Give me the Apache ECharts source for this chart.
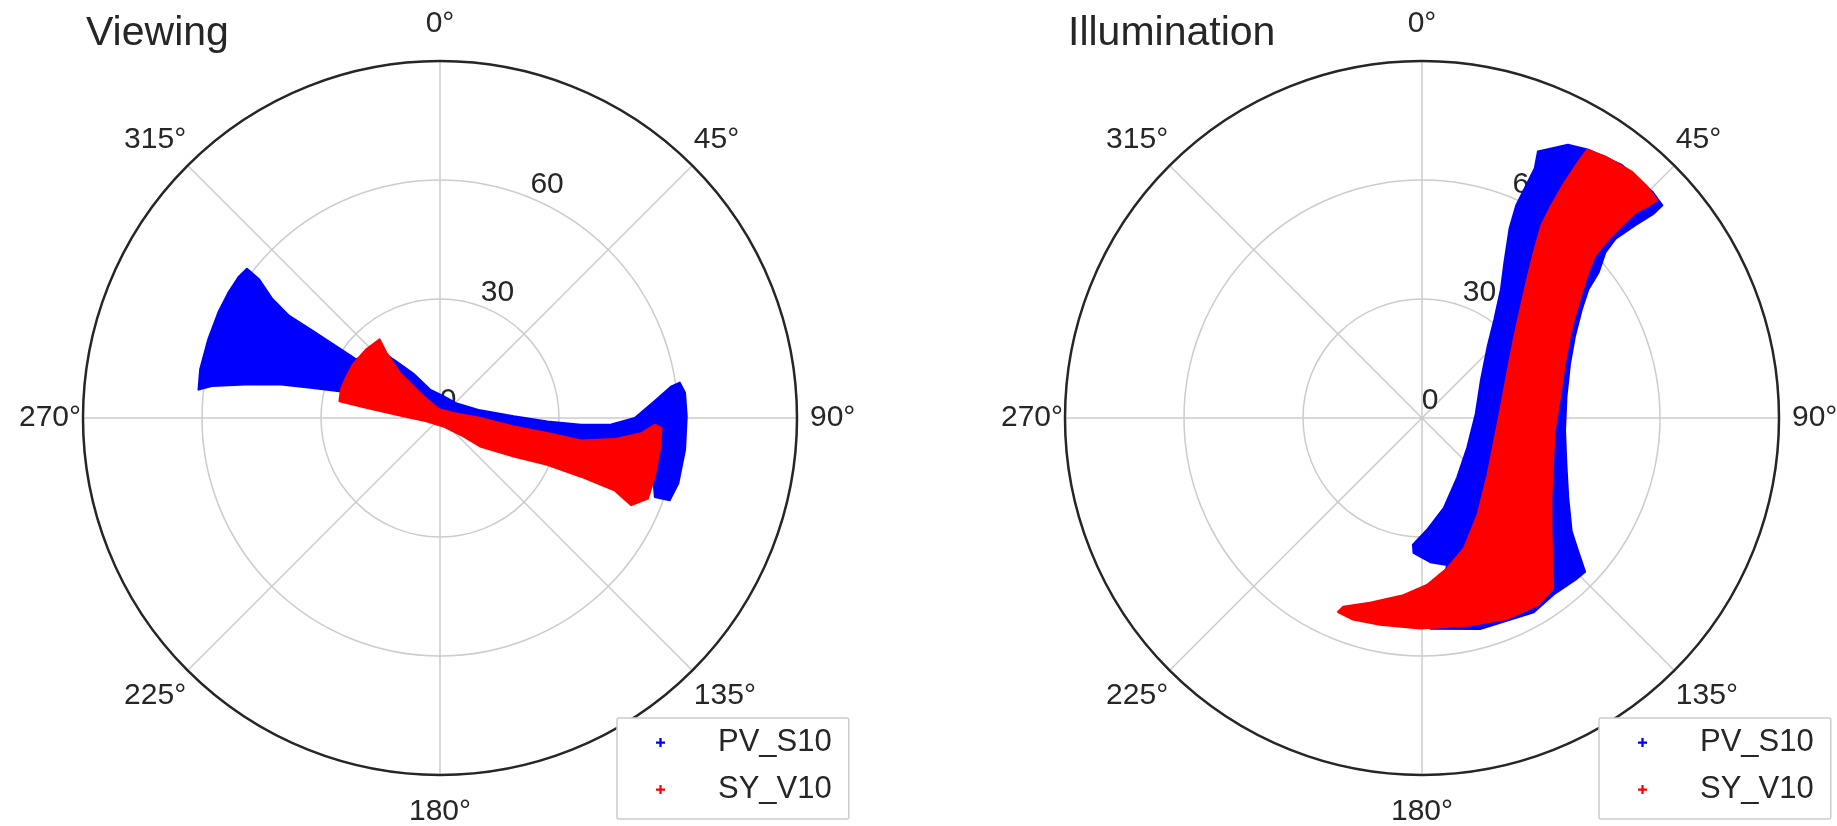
<!DOCTYPE html>
<html>
<head>
<meta charset="utf-8">
<script src="https://cdn.jsdelivr.net/npm/echarts@6/dist/echarts.min.js"></script>
<style>
  html, body { margin: 0; padding: 0; background: #fff; }
  #chart { width: 1837px; height: 826px; }
</style>
</head>
<body>
<div id="chart"></div>
<script>
const panelTitles = ['Viewing', 'Illumination']
const seriesNames = ['PV_S10', 'SY_V10']
const angleTicks = [0, 45, 90, 135, 180, 225, 270, 315]
const radiusTicks = [0, 30, 60]

// outline of each point cloud, [angle in deg, zenith in deg]
const viewPvAngle = [307.7, 307.5, 305.4, 304.1, 304.4, 304.7, 305.0, 318.7, 321.3, 329.0, 340.6, 8.7, 49.3, 79.2, 88.7, 91.8, 92.7, 92.2, 90.0, 85.5, 82.2, 81.6, 84.1, 89.6, 97.4, 105.4, 109.7, 110.2, 98.6, 99.3, 99.8, 97.1, 53.0, 284.9, 283.3, 281.8, 279.8, 278.0, 276.7, 281.5, 288.8, 295.5, 300.8, 305.0]
const viewPvRadius = [61.5, 57.6, 51.9, 46.0, 39.0, 31.9, 25.8, 23.1, 19.0, 13.1, 7.6, 5.6, 5.6, 10.3, 18.6, 27.1, 35.6, 43.2, 49.1, 54.3, 58.9, 61.1, 62.1, 62.2, 62.3, 62.3, 61.5, 57.7, 53.9, 44.6, 27.5, 10.2, 2.1, 26.3, 33.0, 41.5, 49.8, 58.1, 61.3, 61.7, 61.7, 61.9, 62.0, 62.0]

const viewSyAngle = [322.5, 313.0, 301.6, 293.2, 286.1, 279.5, 277.8, 274.4, 256.0, 158.2, 128.2, 125.3, 117.6, 113.6, 112.6, 112.5, 114.5, 111.2, 105.3, 98.3, 92.6, 91.8, 94.3, 96.9, 99.1, 98.0, 96.5, 90.0, 69.4, 349.5, 321.3, 318.4, 320.6]
const viewSyRadius = [25.0, 25.4, 25.8, 25.8, 26.0, 25.7, 18.8, 11.0, 3.5, 2.3, 7.5, 12.4, 21.0, 29.5, 38.5, 47.6, 53.0, 56.2, 56.1, 56.0, 55.9, 54.2, 50.9, 44.3, 36.0, 27.3, 18.7, 10.2, 3.6, 2.3, 8.1, 15.3, 21.3]

const illumPvAngle = [23.5, 28.1, 31.8, 38.3, 45.5, 48.5, 48.6, 47.9, 47.2, 47.9, 50.5, 52.3, 55.8, 61.9, 69.7, 81.7, 95.0, 107.7, 118.6, 127.1, 130.5, 133.3, 136.6, 142.9, 150.1, 164.4, 177.7, 170.3, 176.7, 183.6, 184.1, 177.4, 166.3, 149.3, 122.8, 85.4, 57.1, 42.5, 36.3, 31.5, 27.9, 24.8, 23.9, 24.1, 24.3]
const illumPvRadius = [73.3, 78.1, 79.6, 81.3, 81.4, 80.9, 77.9, 72.5, 66.4, 62.3, 57.7, 53.0, 48.7, 43.7, 39.8, 36.8, 36.2, 38.2, 42.0, 47.3, 51.8, 56.5, 56.2, 55.5, 56.5, 55.2, 53.2, 37.6, 36.4, 34.1, 32.0, 28.2, 23.3, 17.4, 13.6, 13.6, 17.7, 24.5, 30.8, 38.1, 44.4, 52.6, 58.7, 63.4, 69.1]

const illumSyAngle = [31.6, 35.0, 40.5, 44.2, 47.2, 46.9, 46.1, 46.1, 46.2, 46.8, 48.8, 51.9, 56.3, 61.1, 69.0, 81.3, 95.4, 109.4, 121.6, 131.2, 138.4, 142.4, 148.2, 156.9, 166.8, 180.5, 191.5, 198.9, 203.4, 202.7, 195.7, 186.0, 178.3, 170.5, 162.1, 150.1, 130.6, 107.3, 82.0, 60.7, 48.5, 41.5, 36.7, 33.7, 31.8, 31.3, 31.2, 31.4]
const illumSyRadius = [79.4, 80.5, 81.6, 81.4, 80.8, 78.3, 74.7, 70.0, 65.2, 59.8, 55.7, 51.2, 46.3, 42.6, 38.6, 35.2, 33.6, 35.0, 38.3, 43.4, 49.5, 54.2, 55.5, 55.0, 53.7, 53.1, 53.2, 53.7, 53.3, 51.6, 48.4, 44.9, 42.1, 38.4, 34.5, 28.1, 21.8, 19.1, 20.1, 24.8, 31.1, 37.7, 44.7, 51.2, 57.1, 62.8, 69.6, 75.7]

const FONT = '"Liberation Sans", Arial, sans-serif'
const TEXT = '#262626'
const BLUE = '#0000ff'
const RED = '#ff0000'
const R = 357
const centers = [[440, 418], [1422, 418]]
const PLUS = 'path://M3,0H5V3H8V5H5V8H3V5H0V3H3Z'

function pairs(radius, angle) {
  return radius.map((r, i) => [r, angle[i]])
}

// draws the whole outline once, from all points of the series
function renderRegion(params, api) {
  if (params.dataIndexInside !== 0) return null
  const pts = []
  for (let i = 0; i < params.dataInsideLength; i++) {
    pts.push(api.coord([api.value(0, i), api.value(1, i)]))
  }
  const c = api.visual('color')
  return {
    type: 'polygon',
    shape: { points: pts },
    style: { fill: c, stroke: c, lineWidth: 2, lineJoin: 'round' }
  }
}

const labelPad = {
  0: [0, 0, 20, 0], 45: [0, 0, 9, 0], 90: [0, 0, 0, 11], 135: [9, 0, 0, 0],
  180: [20, 0, 0, 0], 225: [9, 0, 0, 0], 270: [0, 0, 0, 0], 315: [0, 0, 9, 0]
}
const angleRich = {}
angleTicks.forEach(t => {
  angleRich['a' + t] = { fontSize: 30, fontFamily: FONT, color: TEXT, padding: labelPad[t] }
})

const panels = [0, 1]

const option = {
  animation: false,
  backgroundColor: '#fff',
  title: panels.map(i => ({
    text: panelTitles[i],
    left: centers[i][0] - R + 3,
    top: 13,
    padding: 0,
    textStyle: { fontSize: 41, fontWeight: 'normal', fontFamily: FONT, color: TEXT }
  })),
  polar: [
    ...panels.map(i => ({ center: centers[i], radius: R })),
    // hidden polars only carrying the radial tick labels
    ...panels.map(i => ({ center: [centers[i][0] + 8, centers[i][1] - 17], radius: R }))
  ],
  angleAxis: [
    ...panels.map(i => ({
      polarIndex: i,
      type: 'value',
      min: 0,
      max: 360,
      interval: 45,
      startAngle: 90,
      clockwise: true,
      axisLine: { lineStyle: { color: TEXT, width: 2.5 } },
      axisTick: { show: false },
      splitLine: { lineStyle: { color: '#cccccc', width: 1.5 } },
      axisLabel: {
        margin: 2,
        fontSize: 30,
        fontFamily: FONT,
        color: TEXT,
        formatter: v => angleTicks.includes(v) ? '{a' + v + '|' + v + '°}' : '',
        rich: angleRich
      }
    })),
    ...panels.map(i => ({
      polarIndex: i + 2,
      type: 'value',
      min: 0,
      max: 360,
      startAngle: 65.4,
      show: false
    }))
  ],
  radiusAxis: [
    ...panels.map(i => ({
      polarIndex: i,
      type: 'value',
      min: 0,
      max: 90,
      interval: 30,
      axisLine: { show: false },
      axisTick: { show: false },
      axisLabel: { show: false },
      splitLine: { lineStyle: { color: '#cccccc', width: 1.5 } }
    })),
    ...panels.map(i => ({
      polarIndex: i + 2,
      type: 'value',
      min: 0,
      max: 90,
      interval: 30,
      axisLine: { show: false },
      axisTick: { show: false },
      splitLine: { show: false },
      axisLabel: {
        margin: 0,
        rotate: 0,
        align: 'center',
        verticalAlign: 'middle',
        fontSize: 30,
        fontFamily: FONT,
        color: TEXT,
        formatter: v => radiusTicks.includes(v) ? String(v) : ''
      }
    }))
  ],
  legend: panels.map(i => ({
    orient: 'vertical',
    left: centers[i][0] + 177,
    top: 718,
    data: seriesNames.map(n => ({ name: n, icon: PLUS })),
    itemWidth: 9,
    itemHeight: 9,
    itemGap: 16,
    padding: [9, 17, 14, 39],
    backgroundColor: '#fff',
    borderColor: '#cccccc',
    borderWidth: 1.5,
    borderRadius: 2,
    selectedMode: false,
    textStyle: { fontSize: 31, fontFamily: FONT, color: TEXT, lineHeight: 30, padding: [0, 0, 0, 48] }
  })),
  series: [
    { name: seriesNames[0], polarIndex: 0, data: pairs(viewPvRadius, viewPvAngle), color: BLUE },
    { name: seriesNames[1], polarIndex: 0, data: pairs(viewSyRadius, viewSyAngle), color: RED },
    { name: seriesNames[0], polarIndex: 1, data: pairs(illumPvRadius, illumPvAngle), color: BLUE },
    { name: seriesNames[1], polarIndex: 1, data: pairs(illumSyRadius, illumSyAngle), color: RED }
  ].map(s => ({
    type: 'custom',
    name: s.name,
    coordinateSystem: 'polar',
    polarIndex: s.polarIndex,
    renderItem: renderRegion,
    data: s.data,
    itemStyle: { color: s.color },
    silent: true,
    z: 3
  }))
}

const chart = echarts.init(document.getElementById('chart'))
chart.setOption(option)
</script>
</body>
</html>
